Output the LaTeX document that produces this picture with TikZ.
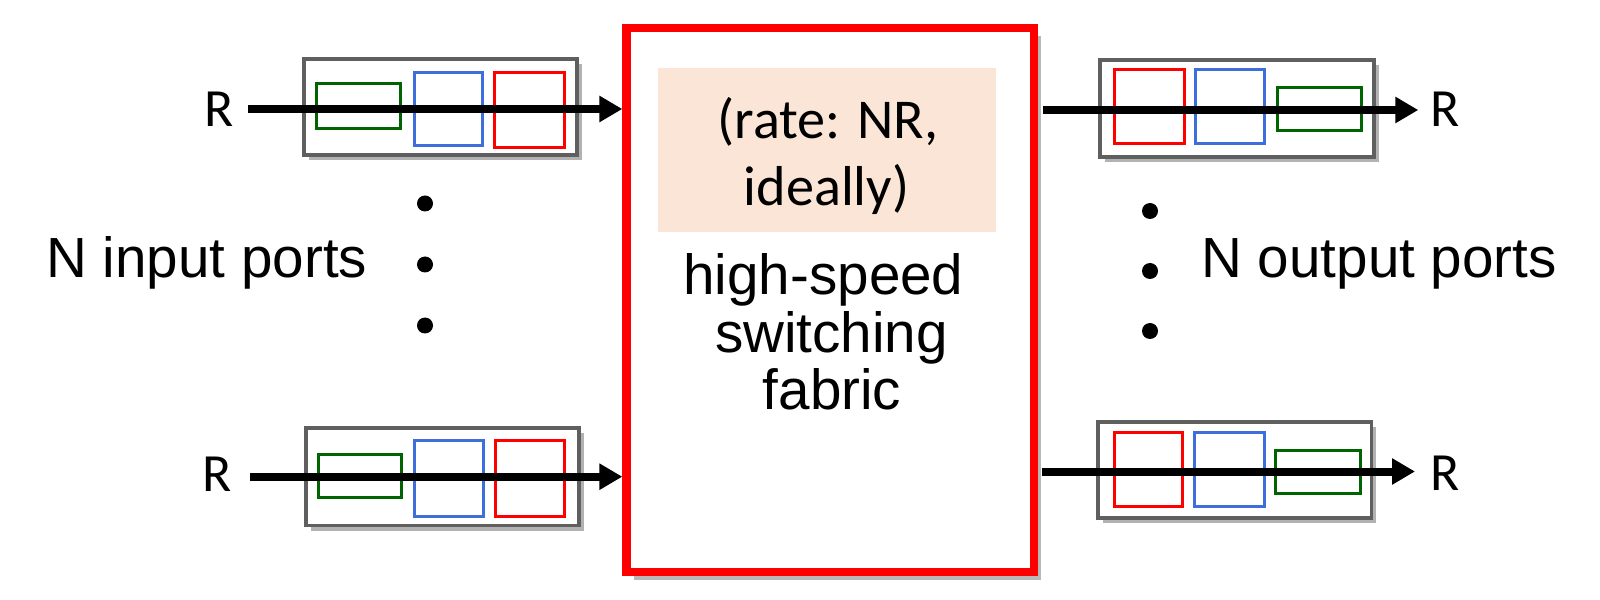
\documentclass[tikz,border=0pt]{standalone}
\usepackage{fontspec}
\setmainfont{Liberation Sans}
\newfontfamily\calfont{Carlito}
\usetikzlibrary{arrows.meta,fit,shadows}
\definecolor{portgray}{RGB}{95,95,95}
\definecolor{qgreen}{RGB}{0,100,0}
\definecolor{qblue}{RGB}{62,110,220}
\definecolor{qred}{RGB}{255,0,0}
\definecolor{peach}{RGB}{251,229,214}
\tikzset{
  portbox/.style={draw=portgray, line width=0.35mm, fill=white, inner sep=0pt,
    drop shadow={shadow xshift=0.45mm, shadow yshift=-0.5mm, opacity=0.3, fill=black}},
  gq/.style={draw=qgreen, line width=0.3mm, inner sep=0pt},
  bq/.style={draw=qblue, line width=0.3mm, inner sep=0pt},
  rq/.style={draw=qred, line width=0.3mm, inner sep=0pt},
  fabricbox/.style={draw=qred, line width=0.83mm, fill=white, inner sep=0pt,
    drop shadow={shadow xshift=0.7mm, shadow yshift=-0.8mm, opacity=0.28, fill=black}},
  ratebox/.style={fill=peach, inner sep=0pt},
  flow/.style={line width=0.8mm, -{Triangle[length=2.3mm,width=2.5mm]}},
  bigtext/.style={font=\fontsize{16.1}{16.1}\selectfont, inner sep=0pt, anchor=base},
  ratetext/.style={font=\calfont\fontsize{16}{16}\selectfont, inner sep=0pt, anchor=base},
  rlabel/.style={font=\calfont\fontsize{15.3}{15.3}\selectfont, inner sep=0pt, anchor=base},
  portdot/.style={circle, fill=black, minimum size=1.6mm, inner sep=0pt},
}
\begin{document}
\begin{tikzpicture}[x=0.1mm, y=-0.1mm]
\useasboundingbox (0,0) rectangle (1600,600);

% switching fabric
\node[fabricbox, fit={(626.5,28) (1034,571.7)}] (fabric) {};
\node[ratebox, fit={(658.3,68.3) (996,231.7)}] (ratebg) {};
\node[ratetext] (rate1) at (828,139) {(rate: NR,};
\node[ratetext] (rate2) at (826.5,205.5) {ideally)};
\node[bigtext] (fab1) at (823.5,294) {high-speed};
\node[bigtext] (fab2) at (831.5,353) {switching};
\node[bigtext] (fab3) at (832,410) {fabric};

% input port top
\node[portbox, fit={(304,59) (577,155)}] (inT) {};
\node[gq, fit={(316,84) (400,128.5)}] (inTg) {};
\node[bq, fit={(414.5,72.5) (482,146)}] (inTb) {};
\node[rq, fit={(494,72.5) (564,148)}] (inTr) {};
\node[rlabel] (RinT) at (218.8,126.7) {R};
\coordinate (inTs) at (248,109);
\draw[flow] (inTs) -- (fabric.west |- inTs);

% input port bottom
\node[portbox, fit={(306,428) (579,525.5)}] (inB) {};
\node[gq, fit={(318.5,454.5) (401.5,497.5)}] (inBg) {};
\node[bq, fit={(414,440.5) (483,516)}] (inBb) {};
\node[rq, fit={(495.5,440.5) (564,516)}] (inBr) {};
\node[rlabel] (RinB) at (217.5,491.5) {R};
\coordinate (inBs) at (250,476.7);
\draw[flow] (inBs) -- (fabric.west |- inBs);

% output port top
\node[portbox, fit={(1100,60) (1374,157)}] (outT) {};
\node[rq, fit={(1114,70) (1184,143.5)}] (outTr) {};
\node[bq, fit={(1195.5,70) (1264.5,143.5)}] (outTb) {};
\node[gq, fit={(1277.5,87.5) (1361.5,131)}] (outTg) {};
\node[rlabel] (RoutT) at (1445.5,126.7) {R};
\coordinate (outTs) at (1043.3,110);
\coordinate (outTe) at (1418.3,110);
\draw[flow] (outTs) -- (outTe);

% output port bottom
\node[portbox, fit={(1098,422) (1371.5,518)}] (outB) {};
\node[rq, fit={(1114,432.5) (1182.5,506)}] (outBr) {};
\node[bq, fit={(1194,432.5) (1264.5,506)}] (outBb) {};
\node[gq, fit={(1275.5,450) (1360,493)}] (outBg) {};
\node[rlabel] (RoutB) at (1445.5,490) {R};
\coordinate (outBs) at (1041.7,471.5);
\coordinate (outBe) at (1415,471.5);
\draw[flow] (outBs) -- (outBe);

% labels and dots
\node[bigtext, anchor=base west] (inlabel) at (45.7,278) {N input ports};
\node[bigtext, anchor=base west] (outlabel) at (1200.7,278) {N output ports};
\node[portdot] (dl1) at (425,203.5) {};
\node[portdot] (dl2) at (425,264.5) {};
\node[portdot] (dl3) at (425,325.5) {};
\node[portdot] (dr1) at (1150,211) {};
\node[portdot] (dr2) at (1150,271) {};
\node[portdot] (dr3) at (1150,331) {};
\end{tikzpicture}
\end{document}
